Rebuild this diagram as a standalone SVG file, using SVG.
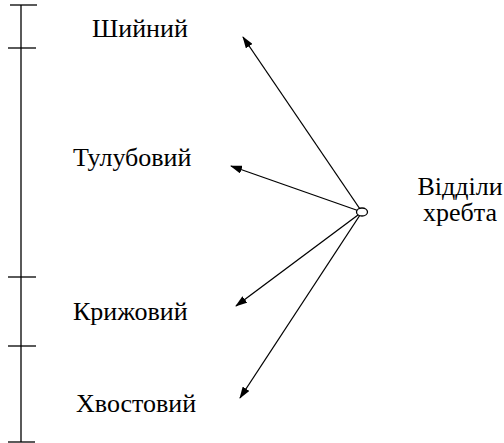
<svg xmlns="http://www.w3.org/2000/svg" width="504" height="443" viewBox="0 0 504 443">
<style>
.ln{stroke:#000;stroke-width:1.3;fill:none}
</style>
<defs>
<marker id="ah" markerWidth="12" markerHeight="8" refX="11" refY="4" orient="auto" markerUnits="userSpaceOnUse">
<path d="M0,0 L12,4 L0,8 Z" fill="#000"/>
</marker>
</defs>
<rect width="504" height="443" fill="#fff"/>
<g id="scale" class="ln">
<line x1="21" y1="5" x2="21" y2="442"/>
<line x1="10" y1="5" x2="37" y2="5"/>
<line x1="8" y1="48" x2="36" y2="48"/>
<line x1="8" y1="277" x2="36" y2="277"/>
<line x1="8" y1="346" x2="36" y2="346"/>
<line x1="8" y1="442" x2="35" y2="442"/>
</g>
<g id="n1"><text x="92" y="37" font-family="Liberation Serif" font-size="26">Шийний</text></g>
<g id="n2"><text x="73" y="166" font-family="Liberation Serif" font-size="26">Тулубовий</text></g>
<g id="n3"><text x="73" y="320" font-family="Liberation Serif" font-size="26">Крижовий</text></g>
<g id="n4"><text x="76" y="412" font-family="Liberation Serif" font-size="26">Хвостовий</text></g>
<g id="root"><text x="460" y="195" text-anchor="middle" font-family="Liberation Serif" font-size="26">Відділи</text><text x="460" y="221" text-anchor="middle" font-family="Liberation Serif" font-size="26">хребта</text></g>
<g id="connectors" class="ln">
<line x1="362" y1="212" x2="243" y2="37" marker-end="url(#ah)"/>
<line x1="362" y1="212" x2="231" y2="166" marker-end="url(#ah)"/>
<line x1="362" y1="212" x2="236" y2="306" marker-end="url(#ah)"/>
<line x1="362" y1="212" x2="240" y2="398" marker-end="url(#ah)"/>
</g>
<g id="hub"><ellipse cx="362" cy="212" rx="5.5" ry="4" fill="#fff" stroke="#000" stroke-width="1.3"/></g>
</svg>
